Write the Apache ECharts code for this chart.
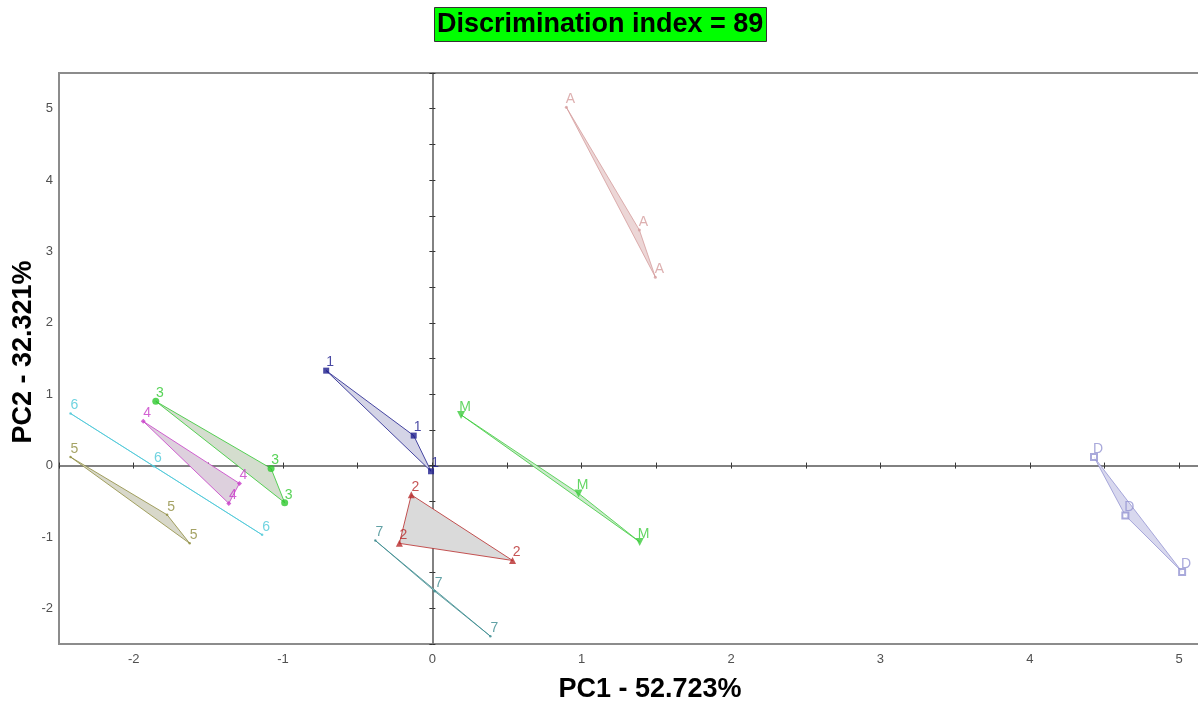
<!DOCTYPE html>
<html>
<head>
<meta charset="utf-8">
<title>PCA – Discrimination index</title>
<script src="https://cdn.jsdelivr.net/npm/echarts@6/dist/echarts.min.js"></script>
<style>
  html, body { margin: 0; padding: 0; background: #fff; }
  #chart { width: 1198px; height: 702px; }
</style>
</head>
<body>
<div id="chart"></div>
<script>
// Sample scores on the first two principal components, three replicates per group
const groupNames = ['A', 'D', '1', '2', '7', 'M', '3', '4', '6', '5'];

const scoresA = [[0.897, 5.02], [1.386, 3.30], [1.493, 2.64]];
const scoresD = [[4.43, 0.12], [4.64, -0.70], [5.02, -1.49]];
const scores1 = [[-0.711, 1.33], [-0.125, 0.42], [-0.009, -0.08]];
const scores2 = [[-0.141, -0.41], [-0.221, -1.09], [0.537, -1.33]];
const scores7 = [[-0.382, -1.05], [0.015, -1.76], [0.388, -2.39]];
const scoresM = [[0.192, 0.71], [0.979, -0.39], [1.388, -1.07]];
const scores3 = [[-1.852, 0.90], [-1.080, -0.04], [-0.989, -0.52]];
const scores4 = [[-1.936, 0.62], [-1.292, -0.25], [-1.363, -0.53]];
const scores6 = [[-2.423, 0.73], [-1.865, -0.01], [-1.140, -0.97]];
const scores5 = [[-2.423, 0.12], [-1.776, -0.69], [-1.625, -1.09]];

const groupScores = [scoresA, scoresD, scores1, scores2, scores7, scoresM, scores3, scores4, scores6, scores5];

// Axis settings
const xRange = [-2.5, 5.2];
const yRange = [-2.5, 5.5];
const tickStep = 0.5;

const titleText = 'Discrimination index = 89';
const xTitle = 'PC1 - 52.723%';
const yTitle = 'PC2 - 32.321%';

// Styles per group
const lineColors = ['#d49c9c', '#9494d2', '#1c1c8c', '#b82a2a', '#3a8a8e', '#3ccc3c', '#2ec82e', '#c83cc8', '#4cc8d8', '#8e8c3e'];
const fillColors = ['#ecd6d6', '#d8d8ee', '#d4d4e6', '#dadada', '#d6e0e0', '#cceacc', '#d4ddce', '#ddd0dd', '#d8eef0', '#d8d8ca'];
const symbols = ['circle', 'emptyRect', 'rect', 'triangle', 'circle', 'triangle', 'circle', 'diamond', 'circle', 'circle'];
const symbolSizes = [3, 6, 6, 7, 2.5, 8, 7, 5, 2.5, 2.5];
const symbolRotations = [0, 0, 0, 0, 0, 180, 0, 0, 0, 0];

const FONT = '"Liberation Sans", Arial, Helvetica, sans-serif';

const series = [];
groupNames.forEach(function (name, g) {
  const pts = groupScores[g];
  // filled hull of the replicates
  series.push({
    type: 'custom',
    name: name + ' hull',
    xAxisIndex: 0,
    yAxisIndex: 0,
    z: 2,
    silent: true,
    data: pts,
    renderItem: function (params, api) {
      if (params.dataIndex !== 0) return null;
      const poly = pts.map(function (p) { return api.coord(p); });
      return {
        type: 'polygon',
        shape: { points: poly },
        style: { fill: fillColors[g], stroke: lineColors[g], lineWidth: 0.8 }
      };
    }
  });
  // replicate markers and their labels
  series.push({
    type: 'scatter',
    name: name,
    xAxisIndex: 0,
    yAxisIndex: 0,
    z: 3,
    data: pts,
    symbol: symbols[g],
    symbolSize: symbolSizes[g],
    symbolRotate: symbolRotations[g],
    itemStyle: { color: lineColors[g], borderColor: lineColors[g], borderWidth: symbols[g] === 'emptyRect' ? 1 : 0 },
    label: {
      show: true,
      formatter: name,
      position: 'inside',
      offset: [4, -8],
      color: lineColors[g],
      fontFamily: FONT,
      fontSize: 14
    }
  });
});

function zeroAxis(range, inside) {
  return {
    type: 'value',
    min: range[0],
    max: range[1],
    interval: tickStep,
    axisLine: { show: true, onZero: true, onZeroAxisIndex: 0, lineStyle: { color: '#7a7a7a', width: 1.5 } },
    axisTick: { show: true, inside: inside, length: 3, lineStyle: { color: '#333', width: 1 } },
    axisLabel: { show: false },
    splitLine: { show: false }
  };
}

function mainAxis(range, position, margin) {
  return {
    type: 'value',
    position: position,
    min: range[0],
    max: range[1],
    interval: tickStep,
    axisLine: { show: false, onZero: false },
    axisTick: { show: false },
    splitLine: { show: false },
    axisLabel: {
      margin: margin,
      fontFamily: FONT,
      fontSize: 13,
      color: '#505050',
      formatter: function (v) { return Number.isInteger(v) ? String(v) : ''; }
    }
  };
}

const option = {
  animation: false,
  backgroundColor: '#ffffff',
  title: {
    text: titleText,
    left: 434,
    top: 7,
    padding: [2, 3, 2, 3],
    backgroundColor: '#00ff00',
    borderColor: '#333',
    borderWidth: 1,
    textStyle: { fontFamily: FONT, fontSize: 27, fontWeight: 'bold', color: '#000', lineHeight: 31 }
  },
  grid: {
    left: 59,
    right: -11,
    top: 73,
    bottom: 58,
    show: true,
    borderColor: '#8c8c8c',
    borderWidth: 2,
    containLabel: false,
    outerBoundsMode: 'none'
  },
  xAxis: [mainAxis(xRange, 'bottom', 9), zeroAxis(xRange, false), zeroAxis(xRange, true)],
  yAxis: [mainAxis(yRange, 'left', 6), zeroAxis(yRange, false), zeroAxis(yRange, true)],
  graphic: [
    {
      type: 'text',
      x: 650,
      y: 690,
      style: { text: xTitle, fontFamily: FONT, fontSize: 27, fontWeight: 'bold', fill: '#000', align: 'center', verticalAlign: 'middle' }
    },
    {
      type: 'text',
      x: 24,
      y: 352,
      rotation: Math.PI / 2,
      style: { text: yTitle, fontFamily: FONT, fontSize: 27, fontWeight: 'bold', fill: '#000', align: 'center', verticalAlign: 'middle' }
    }
  ],
  series: series
};

const chart = echarts.init(document.getElementById('chart'), null, { renderer: 'canvas' });
chart.setOption(option);
</script>
</body>
</html>
